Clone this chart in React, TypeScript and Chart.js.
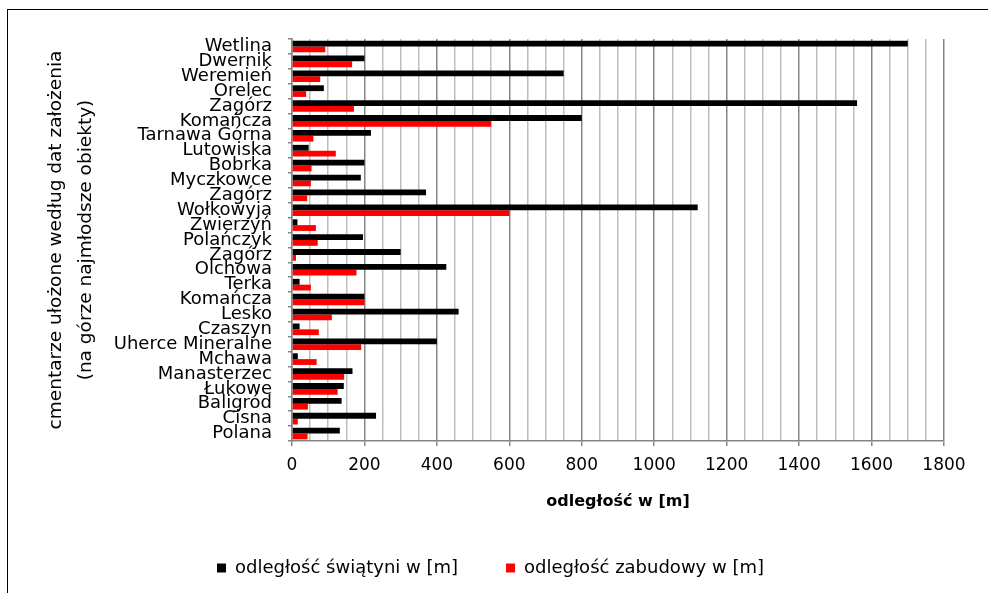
import React, { useEffect, useRef } from 'react';
import { Chart, registerables } from 'chart.js';

Chart.register(...registerables);

const categories = [
  'Wetlina', 'Dwernik', 'Weremień', 'Orelec', 'Zagórz', 'Komańcza', 'Tarnawa Górna',
  'Lutowiska', 'Bobrka', 'Myczkowce', 'Zagórz', 'Wołkowyja', 'Zwierzyń', 'Polańczyk',
  'Zagórz', 'Olchowa', 'Terka', 'Komańcza', 'Lesko', 'Czaszyn', 'Uherce Mineralne',
  'Mchawa', 'Manasterzec', 'Łukowe', 'Baligród', 'Cisna', 'Polana',
];

const templeDistance = [
  1700, 200, 750, 88, 1560, 800, 218, 46, 200, 190, 370, 1120, 15, 196,
  300, 426, 21, 200, 460, 21, 400, 16, 167, 143, 137, 232, 132,
];

const buildingDistance = [
  92, 166, 78, 39, 171, 550, 59, 121, 54, 52, 42, 600, 66, 71,
  11, 178, 52, 200, 110, 74, 191, 68, 144, 126, 44, 16, 43,
];

const seriesLabels = ['odległość świątyni w [m]', 'odległość zabudowy w [m]'];
const xTitle = 'odległość w [m]';
const yTitle = ['cmentarze ułożone według dat założenia', '(na górze najmłodsze obiekty)'];
const xMin = 0;
const xMax = 1800;
const xMinorStep = 50;
const xMajorStep = 200;

const FONT = "'DejaVu Sans', sans-serif";

export default function App() {
  const ref = useRef<HTMLCanvasElement>(null);

  useEffect(() => {
    const chart = new Chart(ref.current!, {
      type: 'bar',
      data: {
        labels: categories,
        datasets: [
          { label: seriesLabels[0], data: templeDistance, backgroundColor: '#000000', borderWidth: 0 },
          { label: seriesLabels[1], data: buildingDistance, backgroundColor: '#ff0000', borderWidth: 0 },
        ],
      },
      options: {
        indexAxis: 'y',
        responsive: false,
        maintainAspectRatio: false,
        animation: false,
        datasets: { bar: { categoryPercentage: 0.78, barPercentage: 1 } },
        layout: { padding: { left: 37, top: 39, right: 44, bottom: 6 } },
        plugins: {
          tooltip: { enabled: false },
          legend: {
            position: 'bottom',
            labels: {
              boxWidth: 9,
              boxHeight: 9,
              color: '#000',
              padding: 48,
              font: { family: FONT, size: 18 },
            },
          },
        },
        scales: {
          x: {
            type: 'linear',
            min: xMin,
            max: xMax,
            ticks: {
              stepSize: xMinorStep,
              autoSkip: false,
              maxRotation: 0,
              color: '#000',
              padding: 9,
              font: { family: FONT, size: 17 },
              callback: (v: any) => (Number(v) % xMajorStep === 0 ? String(v) : ''),
            },
            grid: {
              color: (ctx: any) => (ctx.tick && ctx.tick.value % xMajorStep === 0 ? '#858585' : '#bdbdbd'),
              tickColor: (ctx: any) => (ctx.tick && ctx.tick.value % xMajorStep === 0 ? '#858585' : 'rgba(0,0,0,0)'),
              lineWidth: 1.5,
              tickLength: 5,
            },
            border: { color: '#858585', width: 1.5 },
            title: {
              display: true,
              text: xTitle,
              color: '#000',
              font: { family: FONT, size: 16, weight: 'bold' },
              padding: { top: 10, bottom: 0 },
            },
            afterFit: (s: any) => { s.height = 70; },
          },
          y: {
            type: 'category',
            ticks: {
              autoSkip: false,
              color: '#000',
              padding: 16,
              font: { family: FONT, size: 18 },
            },
            grid: { drawOnChartArea: false, tickLength: 4, color: '#858585', lineWidth: 1.5 },
            border: { color: '#858585', width: 1.5 },
            title: {
              display: true,
              text: yTitle,
              color: '#000',
              font: { family: FONT, size: 18.5, lineHeight: 1.62 },
              padding: { top: 4, bottom: 4 },
            },
            afterFit: (s: any) => { s.width = 255; },
          },
        },
      } as any,
    });
    return () => chart.destroy();
  }, []);

  return (
    <div style={{ position: 'fixed', left: 0, top: 0, width: 988, height: 593, overflow: 'hidden', background: '#fff' }}>
      <div
        style={{
          position: 'absolute', left: 7, top: 9, width: 1200, height: 800,
          borderLeft: '1.5px solid #000', borderTop: '1.5px solid #000',
        }}
      />
      <canvas ref={ref} width={988} height={593} style={{ position: 'absolute', left: 0, top: 0 }} />
    </div>
  );
}
